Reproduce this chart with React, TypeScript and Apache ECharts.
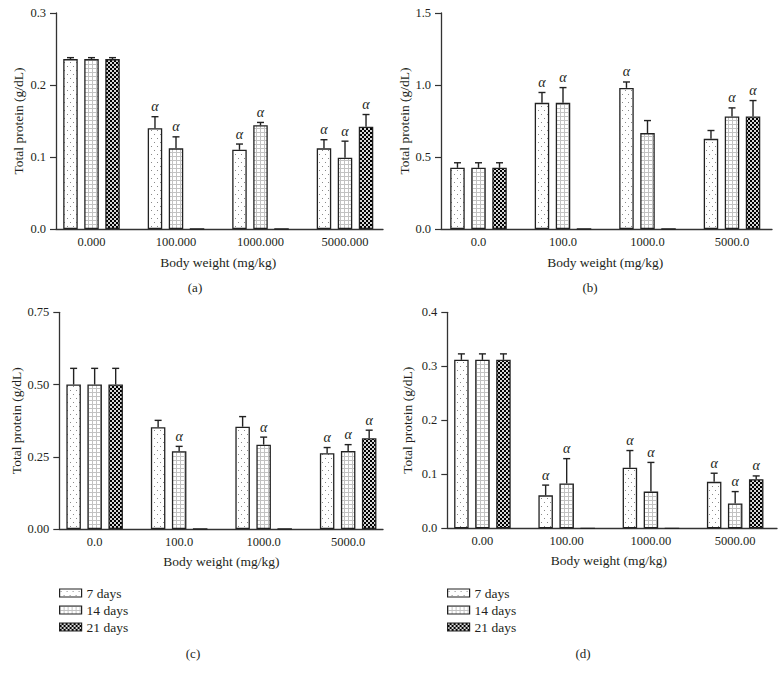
import React, { useEffect, useRef } from 'react';
import * as echarts from 'echarts';

// ---------- data ----------
const SERIES_NAMES = ['7 days', '14 days', '21 days'];

const catsA = ['0.000', '100.000', '1000.000', '5000.000'];
const a7 = [0.236, 0.14, 0.11, 0.112];
const a7Err = [0.238, 0.156, 0.118, 0.124];
const a14 = [0.236, 0.112, 0.144, 0.099];
const a14Err = [0.238, 0.128, 0.148, 0.122];
const a21 = [0.236, 0, 0, 0.142];
const a21Err = [0.238, null, null, 0.159];
const a7Sig = [0, 1, 1, 1];
const a14Sig = [0, 1, 1, 1];
const a21Sig = [0, 0, 0, 1];

const catsB = ['0.0', '100.0', '1000.0', '5000.0'];
const b7 = [0.425, 0.876, 0.98, 0.626];
const b7Err = [0.46, 0.948, 1.021, 0.684];
const b14 = [0.425, 0.876, 0.666, 0.781];
const b14Err = [0.46, 0.982, 0.753, 0.841];
const b21 = [0.425, 0, 0, 0.781];
const b21Err = [0.46, null, null, 0.892];
const b7Sig = [0, 1, 1, 0];
const b14Sig = [0, 1, 0, 1];
const b21Sig = [0, 0, 0, 1];

const catsC = ['0.0', '100.0', '1000.0', '5000.0'];
const c7 = [0.5, 0.352, 0.354, 0.262];
const c7Err = [0.556, 0.376, 0.389, 0.282];
const c14 = [0.5, 0.269, 0.292, 0.27];
const c14Err = [0.556, 0.286, 0.318, 0.292];
const c21 = [0.5, 0, 0, 0.314];
const c21Err = [0.556, null, null, 0.342];
const c7Sig = [0, 0, 0, 1];
const c14Sig = [0, 1, 1, 1];
const c21Sig = [0, 0, 0, 1];

const catsD = ['0.00', '100.00', '1000.00', '5000.00'];
const d7 = [0.312, 0.061, 0.112, 0.086];
const d7Err = [0.323, 0.08, 0.144, 0.102];
const d14 = [0.312, 0.083, 0.068, 0.046];
const d14Err = [0.323, 0.129, 0.122, 0.068];
const d21 = [0.312, 0, 0, 0.091];
const d21Err = [0.323, null, null, 0.097];
const d7Sig = [0, 1, 1, 1];
const d14Sig = [0, 1, 1, 1];
const d21Sig = [0, 0, 0, 1];

const yTicksA = { min: 0, max: 0.3, interval: 0.1, decimals: 1 };
const yTicksB = { min: 0, max: 1.5, interval: 0.5, decimals: 1 };
const yTicksC = { min: 0, max: 0.75, interval: 0.25, decimals: 2 };
const yTicksD = { min: 0, max: 0.4, interval: 0.1, decimals: 1 };

const Y_NAME = 'Total protein (g/dL)';
const X_NAME = 'Body weight (mg/kg)';

// ---------- layout ----------
const FONT = "'Liberation Serif', 'Times New Roman', serif";
const TEXT = '#231f20';
const LINE = '#333333';
const BAR_W = 14.5;
const BAR_GAP = 0.45;
const BAR_STEP = BAR_W * (1 + BAR_GAP);

const panels = [
  {
    tag: '(a)', cats: catsA, ticks: yTicksA,
    vals: [a7, a14, a21], errs: [a7Err, a14Err, a21Err], sig: [a7Sig, a14Sig, a21Sig],
    axisX: 56, axisEnd: 383, top: 13, bottom: 229, barLeft: 49.25, barWidth: 338,
    yNameGap: 31, xNameGap: 26, tagX: 195, tagY: 287, legend: false,
  },
  {
    tag: '(b)', cats: catsB, ticks: yTicksB,
    vals: [b7, b14, b21], errs: [b7Err, b14Err, b21Err], sig: [b7Sig, b14Sig, b21Sig],
    axisX: 441, axisEnd: 772, top: 13, bottom: 229, barLeft: 436.25, barWidth: 338,
    yNameGap: 28, xNameGap: 26, tagX: 590, tagY: 287, legend: false,
  },
  {
    tag: '(c)', cats: catsC, ticks: yTicksC,
    vals: [c7, c14, c21], errs: [c7Err, c14Err, c21Err], sig: [c7Sig, c14Sig, c21Sig],
    axisX: 59.3, axisEnd: 383, top: 312.3, bottom: 529, barLeft: 52.4, barWidth: 338,
    yNameGap: 36, xNameGap: 25, tagX: 193, tagY: 653, legend: true, legendLeft: 59,
  },
  {
    tag: '(d)', cats: catsD, ticks: yTicksD,
    vals: [d7, d14, d21], errs: [d7Err, d14Err, d21Err], sig: [d7Sig, d14Sig, d21Sig],
    axisX: 447.3, axisEnd: 777, top: 312.3, bottom: 528.3, barLeft: 440.3, barWidth: 337,
    yNameGap: 33, xNameGap: 25.5, tagX: 583, tagY: 653, legend: true, legendLeft: 447,
  },
];

function makePattern(kind: number) {
  const c = document.createElement('canvas');
  const ctx = c.getContext('2d') as CanvasRenderingContext2D;
  if (kind === 0) {
    c.width = 6; c.height = 8;
    ctx.fillStyle = '#ffffff'; ctx.fillRect(0, 0, 6, 8);
    ctx.fillStyle = '#8a8a8a';
    ctx.fillRect(1, 2, 1, 1);
    ctx.fillRect(4, 6, 1, 1);
  } else if (kind === 1) {
    c.width = 4; c.height = 4;
    ctx.fillStyle = '#ffffff'; ctx.fillRect(0, 0, 4, 4);
    ctx.fillStyle = '#c2c2c2';
    ctx.fillRect(0, 0, 4, 1);
    ctx.fillRect(0, 0, 1, 4);
  } else {
    c.width = 4; c.height = 4;
    ctx.fillStyle = '#000000'; ctx.fillRect(0, 0, 4, 4);
    ctx.fillStyle = '#d6d6d6';
    ctx.fillRect(0, 0, 2, 2);
    ctx.fillRect(2, 2, 2, 2);
  }
  return { image: c, repeat: 'repeat', imageWidth: c.width, imageHeight: c.height };
}

function buildOption() {
  const patterns = [0, 1, 2].map(makePattern);
  const grid: any[] = [];
  const xAxis: any[] = [];
  const yAxis: any[] = [];
  const series: any[] = [];
  const legend: any[] = [];
  const graphic: any[] = [];

  panels.forEach((p, pi) => {
    const gBar = pi * 2;
    const gAxis = pi * 2 + 1;
    const h = p.bottom - p.top;
    grid.push({ left: p.barLeft, top: p.top, width: p.barWidth, height: h });
    grid.push({ left: p.axisX, top: p.top, width: p.axisEnd - p.axisX, height: h });

    xAxis.push({
      type: 'category', gridIndex: gBar, data: p.cats,
      axisLine: { show: false }, axisTick: { show: false },
      axisLabel: { margin: 6, color: TEXT, fontFamily: FONT, fontSize: 12.5 },
      name: X_NAME, nameLocation: 'middle', nameGap: p.xNameGap,
      nameTextStyle: { color: TEXT, fontFamily: FONT, fontSize: 13.5 },
    });
    xAxis.push({
      type: 'value', gridIndex: gAxis, min: 0, max: 1,
      axisLine: { show: true, lineStyle: { color: LINE, width: 1.3 } },
      axisTick: { show: false }, axisLabel: { show: false }, splitLine: { show: false },
    });
    yAxis.push({
      type: 'value', gridIndex: gBar, min: p.ticks.min, max: p.ticks.max, interval: p.ticks.interval,
      show: false, splitLine: { show: false },
    });
    yAxis.push({
      type: 'value', gridIndex: gAxis, min: p.ticks.min, max: p.ticks.max, interval: p.ticks.interval,
      axisLine: { show: true, lineStyle: { color: LINE, width: 1.3 } },
      axisTick: { show: true, length: 6, lineStyle: { color: LINE, width: 1.2 } },
      axisLabel: {
        margin: 10, color: TEXT, fontFamily: FONT, fontSize: 12.5,
        formatter: (v: number) => v.toFixed(p.ticks.decimals),
      },
      splitLine: { show: false },
      name: Y_NAME, nameLocation: 'middle', nameGap: p.yNameGap,
      nameTextStyle: { color: TEXT, fontFamily: FONT, fontSize: 13.5 },
    });

    [0, 1, 2].forEach((s) => {
      series.push({
        type: 'bar', name: SERIES_NAMES[s], xAxisIndex: gBar, yAxisIndex: gBar,
        data: p.vals[s], barWidth: BAR_W, barGap: `${BAR_GAP * 100}%`,
        itemStyle: { color: patterns[s], borderColor: '#222222', borderWidth: 1.3 },
        z: 2,
      });
      series.push({
        type: 'custom', xAxisIndex: gBar, yAxisIndex: gBar, z: 3,
        data: p.cats.map((_, i) => [i, p.vals[s][i], p.errs[s][i] == null ? NaN : p.errs[s][i], p.sig[s][i]]),
        encode: { x: 0, y: 1 },
        renderItem: (params: any, api: any) => {
          const i = api.value(0);
          const v = api.value(1);
          const e = api.value(2);
          const sg = api.value(3);
          const base = api.coord([i, v]);
          const x = base[0] + (s - 1) * BAR_STEP;
          let topY = base[1];
          const children: any[] = [];
          if (!isNaN(e) && e != null) {
            const top = api.coord([i, e]);
            children.push({
              type: 'line', shape: { x1: x, y1: base[1], x2: x, y2: top[1] },
              style: { stroke: '#222222', lineWidth: 1.4 },
            });
            children.push({
              type: 'line', shape: { x1: x - 3.5, y1: top[1], x2: x + 3.5, y2: top[1] },
              style: { stroke: '#222222', lineWidth: 1.4 },
            });
            topY = top[1];
          }
          if (sg) {
            children.push({
              type: 'text', x: x, y: topY - 3,
              style: {
                text: 'α', fill: TEXT, align: 'center', verticalAlign: 'bottom',
                font: `italic 14px ${FONT}`,
              },
            });
          }
          return { type: 'group', children };
        },
      });
    });

    if (p.legend) {
      legend.push({
        data: SERIES_NAMES, orient: 'vertical', left: p.legendLeft, top: 586, padding: 0,
        itemWidth: 22, itemHeight: 8, itemGap: 3, icon: 'rect',
        itemStyle: { borderColor: '#222222', borderWidth: 1.2 },
        textStyle: { color: TEXT, fontFamily: FONT, fontSize: 13.5, lineHeight: 14 },
        selectedMode: false,
      });
    }
    graphic.push({
      type: 'text', x: p.tagX, y: p.tagY,
      style: { text: p.tag, fill: TEXT, font: `13px ${FONT}`, align: 'center', verticalAlign: 'middle' },
    });
  });

  return {
    animation: false,
    backgroundColor: '#ffffff',
    grid, xAxis, yAxis, series, legend, graphic,
  };
}

export default function App() {
  const ref = useRef<HTMLDivElement>(null);
  useEffect(() => {
    if (!ref.current) return;
    const chart = echarts.init(ref.current, undefined, { renderer: 'svg' });
    chart.setOption(buildOption() as any);
    return () => chart.dispose();
  }, []);
  return (
    <div
      ref={ref}
      style={{ position: 'absolute', left: 0, top: 0, width: 780, height: 680 }}
    />
  );
}
